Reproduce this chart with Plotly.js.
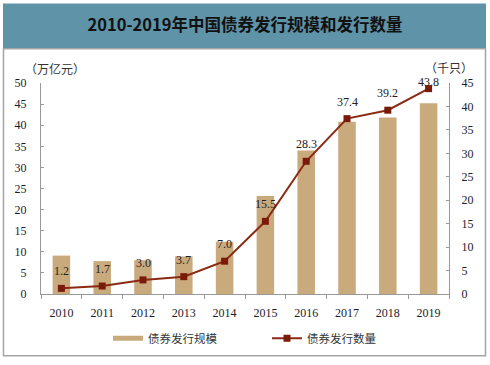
<!DOCTYPE html>
<html><head><meta charset="utf-8">
<script src="https://cdn.plot.ly/plotly-3.0.1.min.js"></script>
<style>html,body{margin:0;padding:0;background:#fff}#c{width:490px;height:365px}</style>
</head><body><div id="c"></div>
<script>
var years = ['2010','2011','2012','2013','2014','2015','2016','2017','2018','2019'];
var scale = [9.1, 7.8, 8.0, 8.9, 12.4, 23.2, 34.0, 40.8, 41.8, 45.2];   // 债券发行规模 (万亿元)
var count = [1.2, 1.7, 3.0, 3.7, 7.0, 15.5, 28.3, 37.4, 39.2, 43.8];   // 债券发行数量 (千只)
var countLabels = ['1.2','1.7','3.0','3.7','7.0','15.5','28.3','37.4','39.2','43.8'];

var barColor = '#c9aa7d', lineColor = '#8a2a14', markColor = '#7a1a08';
var serif = 'Liberation Serif, Times New Roman, serif';
var tickFont = {family: serif, size: 12, color: '#1c1c2c'};

var L = 41, R = 449, T = 83, B = 298;
function px(x){return (x - L)/(R - L);}
function py(y){return (B - y)/(B - T);}

var traces = [
  {type:'bar', x: years, y: scale, marker:{color: barColor}, showlegend:false, hoverinfo:'y'},
  {type:'scatter', mode:'lines+markers', x: years, y: count, yaxis:'y2',
   line:{color: lineColor, width:2}, marker:{symbol:'square', size:7, color: markColor},
   name:'债券发行数量', showlegend:false, cliponaxis:false},
  {type:'scatter', mode:'lines', x:[null], y:[null], name:'债券发行规模',
   line:{color: barColor, width:5}},
  {type:'scatter', mode:'lines+markers', x:[null], y:[null], yaxis:'y2', name:'债券发行数量',
   line:{color: lineColor, width:2}, marker:{symbol:'square', size:7, color: markColor}}
];

var annotations = [
  {text:'（万亿元）', xref:'paper', yref:'paper', x:px(55), y:py(68), xanchor:'center', yanchor:'middle', showarrow:false,
   font:{family:'Noto Sans CJK SC, sans-serif', size:12, color:'#333'}},
  {text:'（千只）', xref:'paper', yref:'paper', x:px(449), y:py(67), xanchor:'center', yanchor:'middle', showarrow:false,
   font:{family:'Noto Sans CJK SC, sans-serif', size:12, color:'#333'}}
];
count.forEach(function(v, i){
  annotations.push({text: countLabels[i], x: i, y: v, xref:'x', yref:'y2',
    showarrow:false, xanchor:'center', yanchor:'middle', yshift: (i === count.length - 1) ? 7 : 17,
    font:{family: serif, size:12, color:'#222'}});
});

var layout = {
  width:490, height:365,
  margin:{l:L, r:490-R, t:T, b:365-B},
  paper_bgcolor:'#fff', plot_bgcolor:'rgba(0,0,0,0)',
  bargap:0.57,
  title:{text:'<b>2010-2019年中国债券发行规模和发行数量</b>', x:0.5, xanchor:'center',
         y:1-25/365, yanchor:'middle', yref:'container',
         font:{family:'Noto Sans CJK SC, sans-serif', size:16.5, color:'#111'}},
  xaxis:{type:'category', range:[-0.5, years.length - 0.5], tickson:'boundaries', ticks:'outside', ticklen:4, tickcolor:'#999',
         showline:true, linecolor:'#999', linewidth:1, tickfont:tickFont, showgrid:false, zeroline:false,
         ticklabelstandoff:8},
  yaxis:{range:[0,50], dtick:5, ticks:'inside', ticklen:3, tickcolor:'#999', showline:true,
         linecolor:'#999', linewidth:1, showgrid:false, zeroline:false, tickfont:tickFont, ticklabelstandoff:11},
  yaxis2:{range:[0,45], dtick:5, overlaying:'y', side:'right', ticks:'inside', ticklen:3, tickcolor:'#999',
          showline:true, linecolor:'#999', linewidth:1, showgrid:false, zeroline:false, tickfont:tickFont, ticklabelstandoff:9},
  legend:{orientation:'h', x:px(108), xanchor:'left', y:py(343), yanchor:'middle',
          font:{family:'Noto Sans CJK SC, sans-serif', size:11.5, color:'#333'}, itemwidth:30,
          entrywidth:114, traceorder:'normal'},
  annotations: annotations,
  shapes:[
    {type:'rect', xref:'paper', yref:'paper', x0:px(3), x1:px(486), y0:py(48), y1:py(2),
     fillcolor:'#5e93a8', line:{width:0}, layer:'below'},
    {type:'rect', xref:'paper', yref:'paper', x0:px(3.5), x1:px(485.5), y0:py(361), y1:py(48),
     fillcolor:'rgba(0,0,0,0)', line:{color:'#a5a5a5', width:1.5}, layer:'below'}
  ]
};
Plotly.newPlot('c', traces, layout, {displayModeBar:false, staticPlot:true});
</script></body></html>
